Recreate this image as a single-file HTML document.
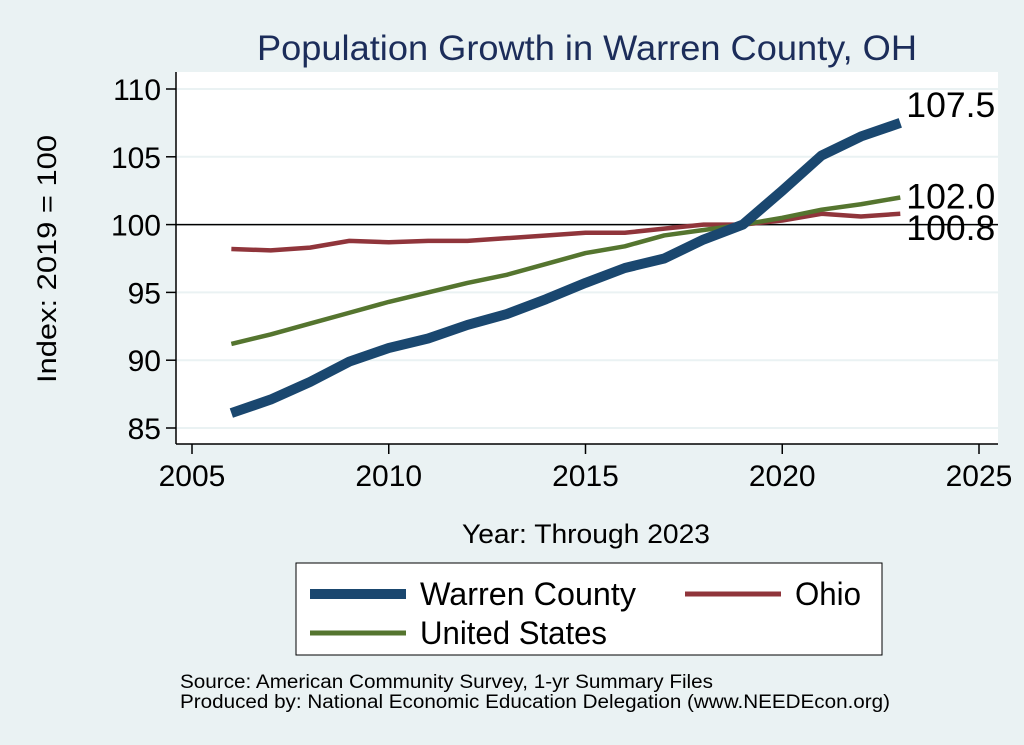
<!DOCTYPE html>
<html><head><meta charset="utf-8"><style>
body{margin:0;background:#eaf2f3;}
svg{display:block;font-family:"Liberation Sans",sans-serif;}
</style></head><body>
<svg width="1024" height="745">
<rect x="0" y="0" width="1024" height="745" fill="#eaf2f3"/>
<rect x="176" y="72" width="822" height="372" fill="#ffffff"/>
<text x="257" y="60" font-size="35" fill="#1c2d5a" textLength="660" lengthAdjust="spacingAndGlyphs">Population Growth in Warren County, OH</text>
<g id="grid"></g>
<g id="axes"></g>
<g id="lines"></g>
<text x="462" y="543" font-size="27" textLength="248" lengthAdjust="spacingAndGlyphs">Year: Through 2023</text>
<text transform="translate(56,383) rotate(-90)" font-size="27" textLength="248" lengthAdjust="spacingAndGlyphs">Index: 2019 = 100</text>
<g>
<rect x="296" y="563" width="586" height="92" fill="#fff" stroke="#000" stroke-width="1"/>
<line x1="310" y1="594" x2="406" y2="594" stroke="#1a476f" stroke-width="10"/>
<text x="420" y="605" font-size="32" textLength="216" lengthAdjust="spacingAndGlyphs">Warren  County</text>
<line x1="685" y1="594" x2="781" y2="594" stroke="#90353b" stroke-width="5"/>
<text x="795" y="605" font-size="32" textLength="66" lengthAdjust="spacingAndGlyphs">Ohio</text>
<line x1="310" y1="633" x2="406" y2="633" stroke="#55752f" stroke-width="5"/>
<text x="420" y="644" font-size="32" textLength="187" lengthAdjust="spacingAndGlyphs">United States</text>
</g>
<text x="180" y="688" font-size="19" textLength="533" lengthAdjust="spacingAndGlyphs">Source: American Community Survey, 1-yr Summary Files</text>
<text x="180" y="708" font-size="19" textLength="710" lengthAdjust="spacingAndGlyphs">Produced by: National Economic Education Delegation (www.NEEDEcon.org)</text>
</svg>
<script>
const years=[2006,2007,2008,2009,2010,2011,2012,2013,2014,2015,2016,2017,2018,2019,2020,2021,2022,2023];
const warren=[86.1,87.1,88.4,89.9,90.9,91.6,92.6,93.4,94.5,95.7,96.8,97.5,98.9,100.0,102.5,105.1,106.5,107.5];
const ohio=[98.2,98.1,98.3,98.8,98.7,98.8,98.8,99.0,99.2,99.4,99.4,99.7,100.0,100.0,100.3,100.8,100.6,100.8];
const us=[91.2,91.9,92.7,93.5,94.3,95.0,95.7,96.3,97.1,97.9,98.4,99.2,99.6,100.0,100.5,101.1,101.5,102.0];
const xTicks=[2005,2010,2015,2020,2025];
const yTicks=[85,90,95,100,105,110];
const NS="http://www.w3.org/2000/svg";
const X=v=>192+(v-2005)*(979-192)/20;
const Y=v=>428-(v-85)*(428-89)/25;
function mk(tag,attrs,parent){const e=document.createElementNS(NS,tag);for(const k in attrs)e.setAttribute(k,attrs[k]);document.getElementById(parent).appendChild(e);return e;}
yTicks.forEach(t=>{
 const g=mk('line',{x1:176,x2:998,y1:Y(t),y2:Y(t),stroke:'#eaf2f3','stroke-width':2},'grid');
 
 
 const tk=mk('line',{x1:166,x2:176,y1:Y(t),y2:Y(t),stroke:'#000','stroke-width':1.5},'axes');
 
 
 const lb=mk('text',{x:161,y:Y(t)+11,'font-size':30,'text-anchor':'end'},'axes');lb.textContent=t;
 
 
});
xTicks.forEach(t=>{
 const tk=mk('line',{x1:X(t),x2:X(t),y1:444,y2:454,stroke:'#000','stroke-width':1.5},'axes');
 
 
 const lb=mk('text',{x:X(t),y:486,'font-size':30,'text-anchor':'middle'},'axes');lb.textContent=t;
 
 
});
const ya=mk('line',{x1:176,x2:176,y1:72,y2:444,stroke:'#000','stroke-width':1.5},'axes');


const xa=mk('line',{x1:176,x2:998,y1:444,y2:444,stroke:'#000','stroke-width':1.5},'axes');


const ref=mk('line',{x1:176,x2:998,y1:Y(100),y2:Y(100),stroke:'#000','stroke-width':1.5},'lines');


function series(vals,color,w,name){
 const p=mk('polyline',{points:years.map((y,i)=>X(y)+','+Y(vals[i])).join(' '),fill:'none',stroke:color,'stroke-width':w,'stroke-linejoin':'round'},'lines');
 
 
}
series(ohio,'#90353b',4.5,'ohio-line');
series(us,'#55752f',4.5,'us-line');
series(warren,'#1a476f',10,'warren-line');
const n=years.length-1;
[[warren,'warren-end-label',-6],[us,'us-end-label',11],[ohio,'ohio-end-label',26]].forEach(([v,nm,dy])=>{
 const t=mk('text',{x:X(years[n])+6,y:Y(v[n])+dy,'font-size':35,textLength:89,lengthAdjust:'spacingAndGlyphs'},'lines');
 t.textContent=v[n].toFixed(1);
 
 
});
</script>
</body></html>
